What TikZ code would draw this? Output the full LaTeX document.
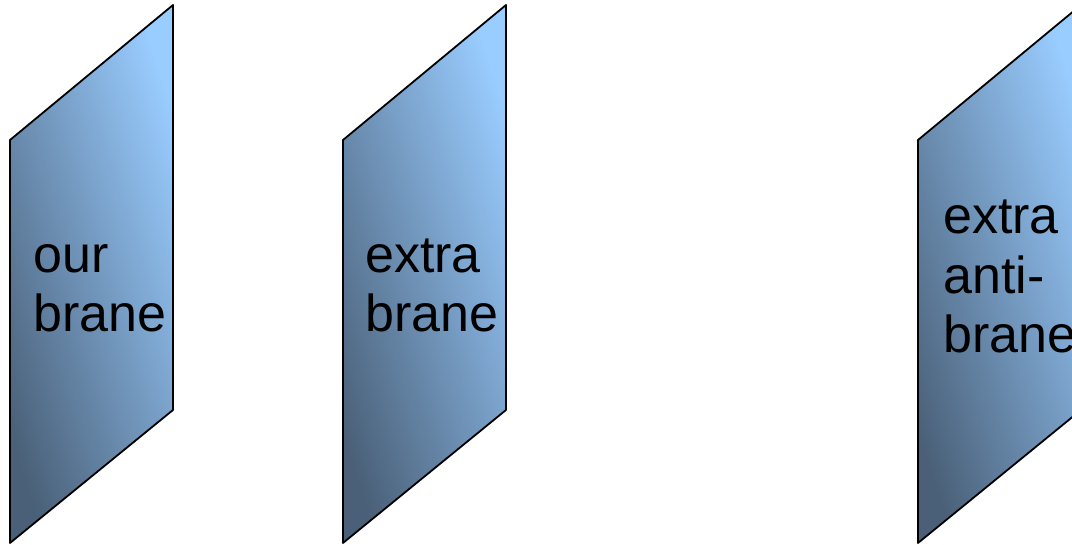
\documentclass[tikz,border=0pt]{standalone}
\usepackage{fontspec}
\setmainfont{Liberation Sans}
\usepackage{xcolor}
\usepackage{tikz}
\usetikzlibrary{positioning}

\definecolor{braneLight}{RGB}{153,204,255}
\definecolor{braneDark}{RGB}{74,96,120}

\begin{document}
\begin{tikzpicture}[x=1pt,y=1pt,
  brane/.style={draw=black,line width=1.8pt,line join=round,
                top color=braneLight,bottom color=braneDark,shading angle=-72},
  lbl/.style={align=left,inner sep=0pt,anchor=base west,
              font=\fontsize{52}{59.5}\selectfont}]
  \clip (0,0) rectangle (1072,545);

  % our brane
  \path[brane] (10,2) -- (10,405) -- (173,540) -- (173,135) -- cycle;
  \node[lbl] (our) at (33,213) {our\\brane};

  % extra brane
  \path[brane] (343,2) -- (343,405) -- (506,540) -- (506,135) -- cycle;
  \node[lbl] (extra) at (365,213) {extra\\brane};

  % extra anti-brane
  \path[brane] (918,2) -- (918,405) -- (1081,540) -- (1081,135) -- cycle;
  \node[lbl] (anti) at (943,192) {extra\\anti-\\brane};
\end{tikzpicture}
\end{document}
